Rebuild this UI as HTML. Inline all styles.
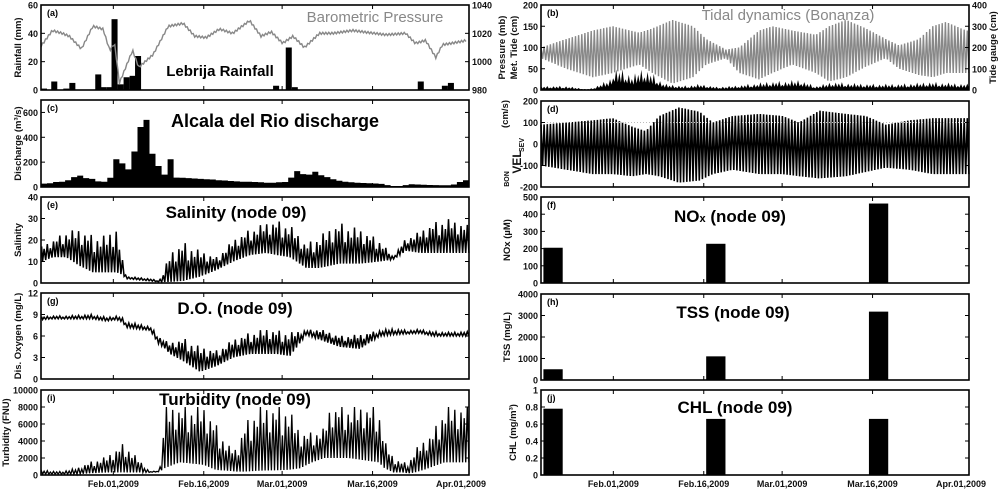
<!DOCTYPE html>
<html><head><meta charset="utf-8">
<style>
html,body{margin:0;padding:0;background:#fff;}
svg{display:block;font-family:"Liberation Sans",Arial,sans-serif;}
.tk{font-size:9px;font-weight:bold;fill:#111;}
.yl{font-size:9.5px;font-weight:bold;fill:#111;}
</style></head>
<body>
<svg id="fig" width="1000" height="490" viewBox="0 0 1000 490"></svg>
<script>
// ---------- data ----------
const rainDays = [19,20.7,22.7,23.7,28,28.9,29.9,30.7,31.7,32.7,33.7,34.6,57.5,59.6,60.6,81.5,85.5,86.5];
const rainVals = [1,6,1,5,11,2,2,50,4,9,10,24,3,30,2,6,3,5];
const presDays = [19,20.9,22.5,23.7,25.7,27.6,29.3,30.4,31.2,32.0,34.2,35.2,37.6,40.1,42.6,44.5,46.4,48.6,50.8,53.6,55.5,57.2,59.1,60.8,62.7,65.2,67.4,70.7,76.2,79.5,81.1,82.8,84.5,85.6,87.1,89.6];
const presVals = [1011,1022,1020,1018,1009,1025,1023,1008,1013,985,1008,996,1005,1025,1027,1018,1017,1023,1020,1029,1018,1021,1013,1018,1010,1020,1020,1022,1019,1020,1013,1015,1003,1012,1013,1015];
const dischDays = [19,20,21,22,23,24,25,26,27,28,29,30,31,32,33,34,35,36,37,38,39,40,41,42,43,44,45,46,47,48,49,50,51,52,53,54,55,56,57,58,59,60,61,62,63,64,65,66,67,68,69,70,71,72,73,74,75,76,77,78,79,80,81,82,83,84,85,86,87,88,89];
const dischVals = [27,30,40,42,55,80,92,72,65,45,42,75,224,190,142,286,483,540,267,169,100,224,76,75,72,68,65,62,60,55,52,48,45,42,42,40,38,35,35,38,40,76,128,104,100,123,95,80,62,50,42,38,35,32,30,28,25,15,8,8,15,22,20,18,16,15,14,14,20,40,55];
const tideDays = [19,23.2,27.6,30.9,35.3,37.5,40.8,44.2,46.4,49.7,51.9,55.2,57.4,60.7,64.6,66.8,69.6,72.9,76.2,78.4,81.7,84,86.2,89.5];
const tideHi = [100,120,140,150,135,145,165,150,120,95,100,140,150,140,130,150,165,145,120,105,120,150,160,140];
const tideLo = [75,50,30,40,60,40,15,30,60,75,40,25,40,60,40,20,30,55,75,50,35,30,40,40];
const metDays = [19,23.2,26.5,27.6,28.7,30.4,31.2,33.2,34.3,35.3,36.4,38.0,39.1,39.7,42.5,45.3,48.1,50.8,56.4,61.9,64.6,67.4,72.9,78.4,84,89.5];
const metVals = [10,10,2,5,15,25,55,45,35,50,50,35,20,15,10,15,8,10,20,25,10,20,15,15,20,15];
const velDays = [19,23.2,27.6,30.9,34.2,36.4,38.6,41.9,45.3,47.5,50.8,55.2,59.1,61.8,65.2,69.6,72.9,76.2,80.1,84,89.5];
const velHi = [90,100,110,120,80,60,130,170,150,100,130,140,130,100,155,140,130,90,110,120,120];
const velLo = [-100,-120,-140,-140,-150,-140,-150,-180,-170,-140,-120,-140,-140,-150,-160,-150,-130,-110,-120,-140,-140];
const wqDays = [19.1,21,23.2,25.4,27.6,29.9,31.5,32.4,33.2,37.1,38.6,39.3,40.4,42.6,45.4,48.1,50.9,53.7,56.4,58.1,60.3,63.0,65.2,68.5,71.9,75.2,77.4,79.6,81.9,84.1,86.3,89.6];
const salHi = [17,20,24,25,22,22,26,12,3,2,1,5,14,19,15,12,20,25,28,29,27,18,22,28,25,20,12,21,24,28,30,27];
const salLo = [10,12,12,8,5,5,5,4,2,1,0.5,0.5,0.5,1,3,6,10,13,14,13,12,7,7,9,9,10,11,15,14,14,14,14];
const doHi = [8.7,8.8,8.8,8.9,9.0,8.6,8.8,8.6,8.0,7.3,6.0,5.5,5.0,5.7,4.5,4.0,5.5,6.5,7.0,6.8,6.5,6.8,7.0,6.0,6.2,6.8,7.0,6.8,6.9,6.6,6.5,6.6];
const doLo = [8.3,8.4,8.4,8.4,8.4,8.1,8.3,8.0,7.2,6.8,4.8,4.5,3.5,2.5,1.0,1.8,3.0,3.5,3.5,3.5,3.2,6.2,5.5,4.5,4.2,6.0,6.2,6.3,6.4,6.0,6.0,6.0];
const turbDays = [19,22,25,27,30,32.8,35,37,38.7,39.5,42,46,48,50,51.5,52.8,55,60,62,64,66,67,70,75,76,77.5,79,80,81,82.5,84,86,90];
const turbHi = [600,400,800,1500,2200,3800,2000,400,500,8000,8000,8000,6000,3500,3000,6000,8000,8000,5000,5000,5500,8000,8000,8000,4000,2000,1500,1500,3000,4000,5000,8000,8000];
const turbLo = [100,100,100,200,300,300,300,300,400,800,1500,1200,600,500,400,400,500,600,800,1500,2000,2000,2000,1500,800,300,300,200,300,600,1000,1500,1500];
const sampleDays = [21,48,75];
const noxVals = [205,228,462];
const tssVals = [500,1100,3180];
const chlVals = [0.78,0.66,0.66];
const dateTickDays = [31,46,59,74,90];
const dateTickLabels = ["Feb.01,2009","Feb.16,2009","Mar.01,2009","Mar.16,2009","Apr.01,2009"];

// ---------- helpers ----------
const NS = "http://www.w3.org/2000/svg";
const svg = document.getElementById("fig");
const D0 = 19, D1 = 90;
const PK = [1,0.75,0.95,0.6,0.9,0.8,1,0.55,0.85,0.7];
function mk(tag, attrs, parent){
  const e = document.createElementNS(NS, tag);
  for (const k in attrs) e.setAttribute(k, attrs[k]);
  (parent||svg).appendChild(e);
  return e;
}
function interp(xs, ys, t){
  if (t <= xs[0]) return ys[0];
  for (let i=1;i<xs.length;i++){
    if (t <= xs[i]){ const f=(t-xs[i-1])/(xs[i]-xs[i-1]); return ys[i-1]+f*(ys[i]-ys[i-1]); }
  }
  return ys[ys.length-1];
}
function panel(name, x0, x1, y0, y1, ymin, ymax){
  const g = mk("g", {});
  
  
  return {g, x0, x1, y0, y1,
    sx: d => x0 + (d - D0) / (D1 - D0) * (x1 - x0),
    sy: v => y1 - (v - ymin) / (ymax - ymin) * (y1 - y0)};
}
function frame(p, yticks, ylabels, dateLabels){
  const ax = mk("g", {}, p.g);
  
  
  yticks.forEach((v,i)=>{
    const y = p.sy(v);
    mk("line",{x1:p.x0,x2:p.x0+4,y1:y,y2:y,stroke:"#000","stroke-width":1},ax);
    mk("line",{x1:p.x1,x2:p.x1-4,y1:y,y2:y,stroke:"#000","stroke-width":1},ax);
    const t = mk("text",{x:p.x0-3,y:y+3.5,"text-anchor":"end",class:"tk"},ax);
    
    
    t.textContent = ylabels[i];
  });
  dateTickDays.forEach((d,i)=>{
    const x = p.sx(d);
    mk("line",{x1:x,x2:x,y1:p.y1,y2:p.y1-4,stroke:"#000","stroke-width":1},ax);
    mk("line",{x1:x,x2:x,y1:p.y0,y2:p.y0+4,stroke:"#000","stroke-width":1},ax);
    if (dateLabels){
      const t = mk("text",{x:(i===4?x-8:x),y:p.y1+12,"text-anchor":"middle",class:"tk"},ax);
      
      
      t.textContent = dateTickLabels[i];
    }
  });
  const r = mk("rect",{x:p.x0,y:p.y0,width:p.x1-p.x0,height:p.y1-p.y0,fill:"none",stroke:"#000","stroke-width":1.6},ax);
  
  
}
function rightTicks(p, vals, labels, vmin, vmax){
  vals.forEach((v,i)=>{
    const y = p.y1 - (v - vmin)/(vmax - vmin)*(p.y1-p.y0);
    const t = mk("text",{x:p.x1+3,y:y+3.5,class:"tk"},p.g);
    
    
    t.textContent = labels[i];
  });
}
function label(p, txt, x, y, size, color, name, weight){
  const t = mk("text",{x:x,y:y,"text-anchor":"middle",style:`font-size:${size}px;font-weight:${weight||'bold'};fill:${color||'#000'}`},p.g);
  
  
  t.textContent = txt;
  return t;
}
function ylab(p, txt, x, name, cyOverride, size){
  const cy = cyOverride || (p.y0+p.y1)/2;
  const t = mk("text",{x:x,y:cy,"text-anchor":"middle",class:"yl",transform:`rotate(-90 ${x} ${cy})`},p.g);
  if (size) t.setAttribute('style', `font-size:${size}px`);
  
  
  t.textContent = txt;
  return t;
}
function letter(p, txt){
  const t = mk("text",{x:p.x0+6,y:p.y0+11,"font-size":9,"font-weight":"bold",fill:"#000"},p.g);
  
  
  t.textContent = txt;
}
function oscillation(p, days, hi, lo, step, color, width, name, irregular){
  let pts = [], k = 0;
  for (let d = D0; d <= D1 + 1e-9; d += step, k++){
    const h = interp(days, hi, d), l = interp(days, lo, d);
    let v;
    if (k % 2 === 0) v = irregular ? l + (h - l) * PK[(k/2) % PK.length] : h;
    else v = l;
    pts.push(p.sx(Math.max(d, days[0])).toFixed(1) + "," + p.sy(v).toFixed(1));
  }
  const el = mk("polyline",{points:pts.join(" "),fill:"none",stroke:color,"stroke-width":width,"stroke-linejoin":"miter"},p.g);
  
  
}
function sampleBars(p, vals, name){
  sampleDays.forEach((d,i)=>{
    const x0 = p.sx(d - 1.6), x1 = p.sx(d + 1.6);
    const r = mk("rect",{x:x0,y:p.sy(vals[i]),width:x1-x0,height:p.y1-p.sy(vals[i]),fill:"#000"},p.g);
    
    
  });
}

const LX0 = 41, LX1 = 469, RX0 = 541, RX1 = 969;

// ---------- (a) ----------
const pa = panel("panel-a-rainfall", LX0, LX1, 5, 90, 0, 60);
rainDays.forEach((d,i)=>{
  const x0 = pa.sx(d), x1 = pa.sx(d+1);
  const r = mk("rect",{x:x0,y:pa.sy(rainVals[i]),width:x1-x0,height:pa.y1-pa.sy(rainVals[i]),fill:"#000"},pa.g);
  
  
});
{
  const sp = v => pa.y1 - (v-980)/60*(pa.y1-pa.y0);
  let pts = [];
  for (let d = presDays[0]; d <= presDays[presDays.length-1]; d += 0.25){
    const j = ((Math.round(d*4)) % 2) ? 0.7 : -0.7;
    pts.push(pa.sx(d).toFixed(1)+","+sp(interp(presDays,presVals,d)+j).toFixed(1));
  }
  const l = mk("polyline",{points:pts.join(" "),fill:"none",stroke:"#888","stroke-width":1.4},pa.g);
  
  
}
frame(pa,[0,20,40,60],["0","20","40","60"],false);
rightTicks(pa,[980,1000,1020,1040],["980","1000","1020","1040"],980,1040);
letter(pa,"(a)");
label(pa,"Lebrija Rainfall",220,76,15,"#000","rainfall-title");
label(pa,"Barometric Pressure",375,22,15,"#888","pressure-title","normal");
ylab(pa,"Rainfall (mm)",21,"y-axis-title-rainfall");
ylab(pa,"Pressure (mb)",505,"y-axis-title-pressure");

// ---------- (c) ----------
const pc = panel("panel-c-discharge", LX0, LX1, 100, 187, 0, 700);
{
  let pts = [pc.sx(dischDays[0])+","+pc.y1];
  dischDays.forEach((d,i)=>{
    pts.push(pc.sx(d).toFixed(1)+","+pc.sy(dischVals[i]).toFixed(1));
    pts.push(pc.sx(Math.min(d+1,D1)).toFixed(1)+","+pc.sy(dischVals[i]).toFixed(1));
  });
  pts.push(pc.sx(D1)+","+pc.y1);
  const a = mk("polygon",{points:pts.join(" "),fill:"#000"},pc.g);
  
  
}
frame(pc,[0,200,400,600],["0","200","400","600"],false);
letter(pc,"(c)");
label(pc,"Alcala del Rio discharge",275,127,18,"#000","discharge-title");
ylab(pc,"Discharge (m³/s)",21,"y-axis-title-discharge");

// ---------- (e) ----------
const pe = panel("panel-e-salinity", LX0, LX1, 197, 283, 0, 40);
oscillation(pe, wqDays, salHi, salLo, 0.26, "#000", 1.5, "salinity-line", true);
frame(pe,[0,10,20,30,40],["0","10","20","30","40"],false);
letter(pe,"(e)");
label(pe,"Salinity (node 09)",236,218,17,"#000","salinity-title");
ylab(pe,"Salinity",21,"y-axis-title-salinity");

// ---------- (g) ----------
const pg = panel("panel-g-dissolved-oxygen", LX0, LX1, 293, 379, 0, 12);
oscillation(pg, wqDays, doHi, doLo, 0.26, "#000", 1.5, "do-line", true);
frame(pg,[0,3,6,9,12],["0","3","6","9","12"],false);
letter(pg,"(g)");
label(pg,"D.O. (node 09)",235,314,17,"#000","do-title");
ylab(pg,"Dis. Oxygen (mg/L)",21,"y-axis-title-do");

// ---------- (i) ----------
const pi = panel("panel-i-turbidity", LX0, LX1, 390, 475, 0, 10000);
oscillation(pi, turbDays, turbHi, turbLo, 0.26, "#000", 1.3, "turbidity-line", true);
frame(pi,[0,2000,4000,6000,8000,10000],["0","2000","4000","6000","8000","10000"],true);
letter(pi,"(i)");
label(pi,"Turbidity (node 09)",235,405,17,"#000","turbidity-title");
ylab(pi,"Turbidity (FNU)",9,"y-axis-title-turbidity");

// ---------- (b) ----------
const pb = panel("panel-b-tides", RX0, RX1, 5, 90, 0, 200);
oscillation(pb, tideDays, tideHi, tideLo, 0.26, "#888", 1.4, "tide-gauge-line", false);
{
  let pts = [pb.sx(D0)+","+pb.y1], k=0;
  for (let d = D0; d <= D1+1e-9; d += 0.26, k++){
    const v = interp(metDays, metVals, d) * ((k%2)?0.35:PK[(k>>1)%PK.length]);
    pts.push(pb.sx(d).toFixed(1)+","+pb.sy(v).toFixed(1));
  }
  pts.push(pb.sx(D1)+","+pb.y1);
  const a = mk("polygon",{points:pts.join(" "),fill:"#000"},pb.g);
  
  
}
frame(pb,[0,50,100,150,200],["0","50","100","150","200"],false);
rightTicks(pb,[0,100,200,300,400],["0","100","200","300","400"],0,400);
letter(pb,"(b)");
label(pb,"Tidal dynamics (Bonanza)",788,20,15,"#888","tidal-title","normal");
ylab(pb,"Met. Tide (cm)",517,"y-axis-title-met-tide");
ylab(pb,"Tide gauge (cm)",996,"y-axis-title-tide-gauge");

// ---------- (d) ----------
const pd = panel("panel-d-velocity", RX0, RX1, 101, 187, -200, 200);
oscillation(pd, velDays, velHi, velLo, 0.26, "#000", 1.6, "velocity-line", false);
{
  const l = mk("line",{x1:pd.x0,x2:pd.x1,y1:pd.sy(100),y2:pd.sy(100),stroke:"#bbb","stroke-width":1,"stroke-dasharray":"1,2"},pd.g);
  
  
}
frame(pd,[-200,-100,0,100,200],["-200","-100","0","100","200"],false);
letter(pd,"(d)");
ylab(pd,"(cm/s)",508,"y-axis-title-velocity-units",114);
ylab(pd,"VEL",521,"y-axis-title-velocity",162,12);
ylab(pd,"SEV",524,"y-axis-title-velocity-sev",145,7);
ylab(pd,"BON",509,"y-axis-title-velocity-bon",179,7);

// ---------- (f) ----------
const pf = panel("panel-f-nox", RX0, RX1, 197, 283, 0, 500);
sampleBars(pf, noxVals, "nox-bar");
frame(pf,[0,100,200,300,400,500],["0","100","200","300","400","500"],false);
letter(pf,"(f)");
{
  const t = mk("text",{x:730,y:222,"text-anchor":"middle","font-size":17,"font-weight":"bold",fill:"#000"},pf.g);
  
  
  t.innerHTML = 'NO<tspan font-size="11">x</tspan> (node 09)';
}
ylab(pf,"NOx (µM)",510,"y-axis-title-nox");

// ---------- (h) ----------
const ph = panel("panel-h-tss", RX0, RX1, 294, 380, 0, 4000);
sampleBars(ph, tssVals, "tss-bar");
frame(ph,[0,1000,2000,3000,4000],["0","1000","2000","3000","4000"],false);
letter(ph,"(h)");
label(ph,"TSS (node 09)",733,318,17,"#000","tss-title");
ylab(ph,"TSS (mg/L)",510,"y-axis-title-tss");

// ---------- (j) ----------
const pj = panel("panel-j-chl", RX0, RX1, 390, 475, 0, 1);
sampleBars(pj, chlVals, "chl-bar");
frame(pj,[0,0.2,0.4,0.6,0.8,1],["0","0.2","0.4","0.6","0.8","1"],true);
letter(pj,"(j)");
label(pj,"CHL (node 09)",735,413,17,"#000","chl-title");
ylab(pj,"CHL (mg/m³)",516,"y-axis-title-chl");
</script>
</body></html>
